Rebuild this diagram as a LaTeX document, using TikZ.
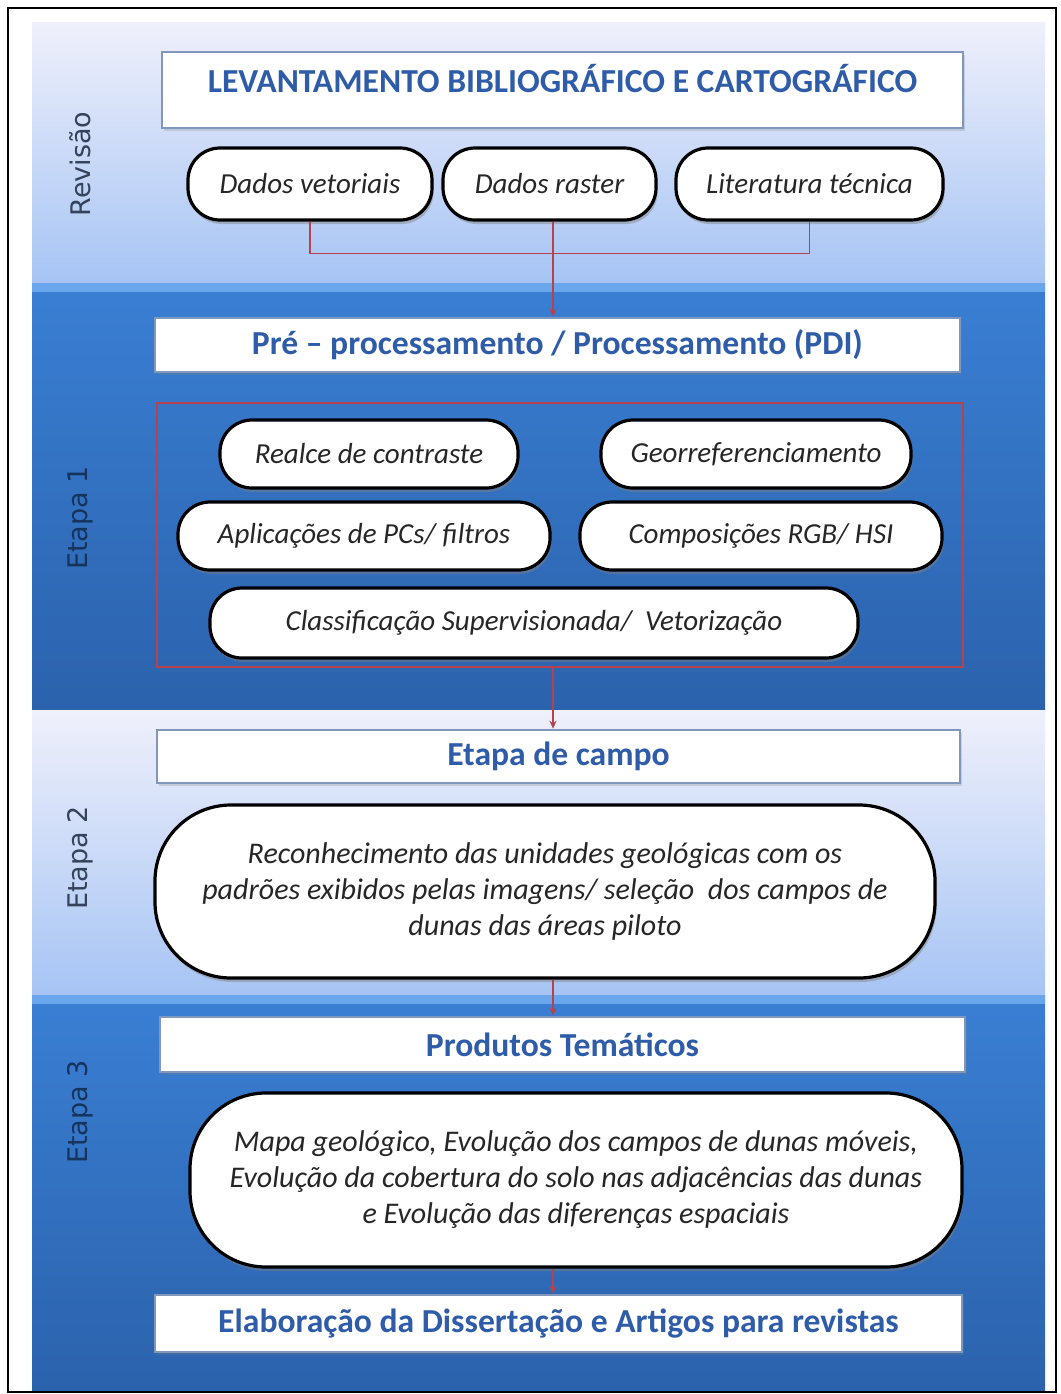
\documentclass[tikz,border=0pt]{standalone}
\usepackage{fontspec}
\setmainfont{Carlito}
\newfontfamily\stagefont{DejaVu Sans}
\usetikzlibrary{arrows.meta,positioning,shadows}

\definecolor{ltTop}{HTML}{EFF0FB}
\definecolor{ltBot}{HTML}{A6C4F4}
\definecolor{dkTop}{HTML}{3A7FD4}
\definecolor{dkBot}{HTML}{2B62AC}
\definecolor{dkHi}{HTML}{6AA6EC}
\definecolor{hdrline}{HTML}{8197BC}
\definecolor{hdrtext}{HTML}{2F5CA8}
\definecolor{redln}{HTML}{B8414C}
\definecolor{stagelt}{HTML}{34425A}
\definecolor{stagedk}{HTML}{16335C}

\begin{document}
\begin{tikzpicture}[x=0.5pt, y=-0.5pt,
  hdr/.style={draw=hdrline, line width=1.3pt, fill=white, inner sep=2pt,
              font=\bfseries\fontsize{16.8}{19}\selectfont, text=hdrtext,
              drop shadow={opacity=0.25, shadow xshift=1pt, shadow yshift=-1.5pt}},
  pill/.style={draw=black, line width=1.6pt, fill=white, rounded corners=16pt,
               align=center, inner sep=2pt, text=black!85,
               font=\itshape\fontsize{14.5}{17}\selectfont,
               drop shadow={opacity=0.45, shadow xshift=0.8pt, shadow yshift=-2pt}},
  bigpill/.style={pill, rounded corners=38pt, font=\itshape\fontsize{15}{18}\selectfont},
  stagelbl/.style={rotate=90, font=\stagefont\fontsize{13.5}{15}\selectfont},
  ln/.style={draw=redln, line width=0.8pt},
  a/.style={ln, -{Stealth[length=4pt, width=3.5pt]}}]

\useasboundingbox (0,0) rectangle (1061,1394);
\fill[white] (0,0) rectangle (1061,1394);

% bands
\shade[top color=ltTop, bottom color=ltBot] (32,22) rectangle (1045,283);
\shade[top color=dkTop, bottom color=dkBot] (32,283) rectangle (1045,710);
\fill[dkHi] (32,283) rectangle (1045,292);
\shade[top color=ltTop, bottom color=ltBot] (32,710) rectangle (1045,995);
\shade[top color=dkTop, bottom color=dkBot] (32,995) rectangle (1045,1390);
\fill[dkHi] (32,995) rectangle (1045,1004);
\draw[black, line width=1pt] (8,8) rectangle (1056,1392);

% stage labels
\node[stagelbl, text=stagelt] (rev) at (80,164) {Revisão};
\node[stagelbl, text=stagedk] (e1) at (80,518) {Etapa 1};
\node[stagelbl, text=stagelt] (e2) at (80,858) {Etapa 2};
\node[stagelbl, text=stagedk] (e3) at (80,1112) {Etapa 3};

\coordinate (spine) at (553,0);

% Revisao
\node[hdr, minimum width=400.5pt, minimum height=38pt, text depth=12pt] (lev) at (562.5,90)
      {LEVANTAMENTO BIBLIOGRÁFICO E CARTOGRÁFICO};
\node[pill, minimum width=122pt, minimum height=36pt] (dv) at (310,184) {Dados vetoriais};
\node[pill, minimum width=106.5pt, minimum height=36pt] (dr) at (549.5,184) {Dados raster};
\node[pill, minimum width=133.5pt, minimum height=36pt] (lt) at (809.5,184) {Literatura técnica};

% Etapa 1
\node[hdr, minimum width=402.5pt, minimum height=27pt] (pre) at (557.5,345)
      {Pré – processamento / Processamento (PDI)};
\node[draw=redln, line width=0.8pt, minimum width=403pt, minimum height=132pt] (grp) at (560,535) {};
\node[pill, minimum width=149pt, minimum height=34pt] (rc) at (369,454) {Realce de contraste};
\node[pill, minimum width=155pt, minimum height=34pt] (geo) at (756,454) {Georreferenciamento};
\node[pill, minimum width=186pt, minimum height=34pt] (apc) at (364,536) {Aplicações de PCs/ filtros};
\node[pill, minimum width=181pt, minimum height=34pt] (rgb) at (761,536) {Composições RGB/ HSI};
\node[pill, minimum width=324pt, minimum height=35pt] (cls) at (534,623)
      {Classificação Supervisionada/\ \ Vetorização};

% Etapa 2
\node[hdr, minimum width=401.5pt, minimum height=26.5pt] (campo) at (558.5,756.5) {Etapa de campo};
\node[bigpill, minimum width=390pt, minimum height=86.5pt] (recon) at (545,891.5)
      {Reconhecimento das unidades geológicas com os\\
       padrões exibidos pelas imagens/ seleção\ \ dos campos de\\
       dunas das áreas piloto};

% Etapa 3
\node[hdr, minimum width=402.5pt, minimum height=27.5pt] (prod) at (562.5,1044.5) {Produtos Temáticos};
\node[bigpill, minimum width=386pt, minimum height=87pt] (mapa) at (576,1180)
      {Mapa geológico, Evolução dos campos de dunas móveis,\\
       Evolução da cobertura do solo nas adjacências das dunas\\
       e Evolução das diferenças espaciais};
\node[hdr, minimum width=403.5pt, minimum height=28.5pt] (elab) at (558.5,1323.5)
      {Elaboração da Dissertação e Artigos para revistas};

% connectors
\draw[ln] (dv.south) -- ++(0,32) -| (lt.south);
\draw[a] (dr.south -| spine) -- (pre.north -| spine);
\draw[a] (grp.south -| spine) -- (campo.north -| spine);
\draw[a] (recon.south -| spine) -- (prod.north -| spine);
\draw[a] (mapa.south -| spine) -- (elab.north -| spine);
\end{tikzpicture}
\end{document}
